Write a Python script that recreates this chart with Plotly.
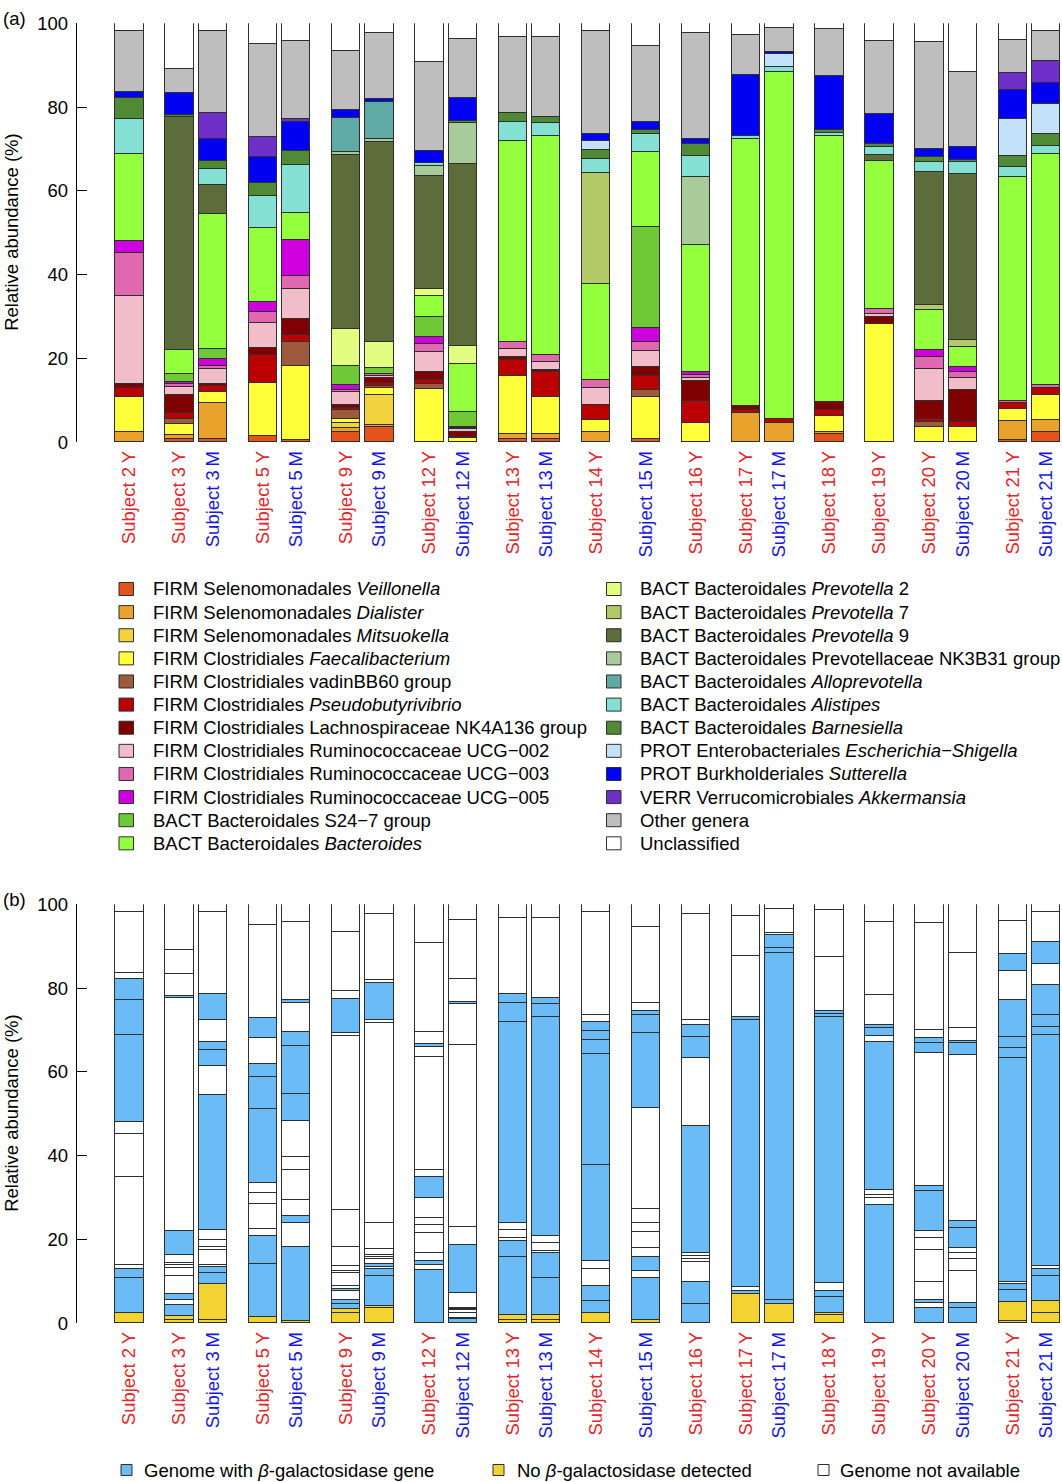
import plotly.graph_objects as go

# ---------------- data ----------------
subjects = [2, 3, 3, 5, 5, 9, 9, 12, 12, 13, 13, 14, 15, 16, 17, 17, 18, 19, 20, 20, 21, 21]
timepoints = ['Y', 'Y', 'M', 'Y', 'M', 'Y', 'M', 'Y', 'M', 'Y', 'M', 'Y', 'M', 'Y', 'Y', 'M', 'Y', 'Y', 'Y', 'M', 'Y', 'M']

veillonella = [0, 0.6, 0.7, 1.5, 0.4, 2.5, 3.7, 0, 0, 0.8, 0.8, 0, 0.7, 0, 0, 0, 2.0, 0, 0, 0, 0.4, 2.5]
dialister = [2.3, 1.0, 8.6, 0, 0, 0.8, 0.4, 0, 0, 1.2, 1.2, 2.5, 0, 0, 6.9, 4.5, 0.5, 0, 0, 0, 4.7, 2.7]
mitsuokella = [0, 0, 0, 0, 0, 1.2, 7.2, 0, 0, 0, 0, 0, 0, 0, 0, 0, 0, 0, 0, 0, 0, 0]
faecalibacterium = [8.4, 2.8, 2.6, 12.7, 17.8, 1.0, 1.7, 12.7, 1.0, 13.8, 8.7, 2.8, 10.0, 4.5, 0, 0, 3.6, 28.2, 3.6, 3.7, 2.8, 6.1]
vadinbb60 = [0, 1.1, 0, 0, 5.6, 2.2, 0.4, 1.2, 0, 0, 0, 0, 1.6, 0, 0, 0, 0, 0, 1.2, 0, 0, 0]
pseudobutyrivibrio = [2.3, 1.4, 1.4, 6.6, 1.7, 0.5, 0.6, 1.0, 0.3, 3.7, 5.9, 3.5, 3.4, 5.4, 0.8, 1.0, 1.6, 0, 0.7, 1.1, 1.4, 1.6]
lachno_nk4a136 = [0.8, 4.4, 0.6, 1.6, 3.9, 0.6, 1.2, 1.7, 1.0, 0.9, 0.5, 0, 2.2, 4.6, 1.0, 0, 1.8, 1.6, 4.2, 7.7, 0, 0]
rumino_ucg002 = [21.0, 1.9, 3.6, 6.0, 7.0, 3.2, 0.6, 5.0, 0.8, 1.8, 1.9, 4.2, 3.9, 0.8, 0, 0, 0, 0.8, 7.7, 2.8, 0, 0]
rumino_ucg003 = [10.2, 0.6, 0.6, 2.6, 3.3, 0.5, 0.4, 1.8, 0.3, 1.7, 1.8, 1.9, 2.0, 0.6, 0, 0, 0, 1.2, 2.8, 1.3, 0.6, 0.8]
rumino_ucg005 = [3.0, 0.5, 1.7, 2.4, 8.4, 1.0, 0, 1.7, 0.2, 0, 0, 0, 3.4, 0.8, 0, 0, 0, 0, 1.7, 1.2, 0, 0]
s24_7 = [0, 1.9, 2.4, 0, 0, 4.6, 1.5, 4.7, 3.6, 0, 0, 0, 24.1, 0, 0, 0, 0, 0, 0, 0, 0, 0]
bacteroides = [20.7, 5.7, 32.3, 17.7, 6.6, 0, 0, 5.0, 11.3, 48.0, 52.3, 22.8, 18.0, 30.2, 63.5, 82.8, 63.5, 35.2, 9.7, 4.9, 53.3, 55.0]
prevotella2 = [0, 0, 0, 0, 0, 8.8, 6.2, 1.7, 4.5, 0, 0, 0, 0, 0, 0, 0, 0, 0, 0, 0, 0, 0]
prevotella7 = [0, 0, 0, 0, 0, 0, 0, 0, 0, 0, 0, 26.5, 0, 0, 0, 0, 0, 0, 1.2, 1.6, 0, 0]
prevotella9 = [0, 55.6, 6.8, 0, 0, 41.5, 47.7, 26.9, 43.4, 0, 0, 0, 0, 0, 0, 0, 0, 1.5, 31.6, 39.7, 0, 0]
nk3b31 = [0, 0, 0, 0, 0, 0.7, 0.6, 2.4, 9.7, 0, 0, 0, 0, 16.3, 0, 0, 0, 0, 0, 0, 0, 0]
alloprevotella = [0, 0, 0, 0, 0, 8.2, 8.9, 0, 0, 0, 0, 0, 0, 0, 0, 0, 0, 0, 0, 0, 0, 0]
alistipes = [8.5, 0, 3.9, 7.5, 11.3, 0, 0, 0.9, 0, 4.4, 3.0, 3.3, 4.2, 5.1, 0.8, 1.2, 0.8, 1.9, 2.4, 2.8, 2.4, 1.9]
barnesiella = [4.9, 0.5, 1.8, 3.1, 3.4, 0, 0, 0, 0.6, 2.2, 1.4, 2.3, 0.9, 2.9, 0, 0, 0.6, 0.8, 1.2, 0.4, 2.6, 2.8]
escherichia_shigella = [0, 0, 0, 0, 0, 0, 0, 0, 0, 0, 0, 2.0, 0, 0, 0, 3.0, 0, 0, 0, 0, 8.9, 7.3]
sutterella = [1.4, 5.3, 5.3, 6.4, 7.0, 1.9, 0.8, 2.8, 5.4, 0, 0, 1.8, 2.0, 1.0, 14.7, 0.6, 12.9, 7.2, 1.9, 3.2, 7.0, 5.0]
akkermansia = [0, 0, 6.2, 4.6, 0.8, 0, 0, 0, 0, 0, 0, 0, 0, 0, 0, 0, 0, 0, 0, 0, 4.0, 5.3]
other_genera = [14.7, 5.7, 19.5, 22.3, 18.4, 14.2, 15.7, 21.2, 14.1, 18.1, 19.1, 24.4, 18.0, 25.4, 9.5, 5.7, 11.3, 17.4, 25.6, 17.9, 7.9, 7.2]
unclassified = [1.8, 11.0, 2.0, 5.0, 4.4, 6.6, 2.4, 9.3, 3.8, 3.4, 3.4, 2.0, 5.6, 2.4, 2.8, 1.2, 1.4, 4.2, 4.5, 11.7, 4.0, 1.8]

genus_labels = [
    "FIRM Selenomonadales <i>Veillonella</i>",
    "FIRM Selenomonadales <i>Dialister</i>",
    "FIRM Selenomonadales <i>Mitsuokella</i>",
    "FIRM Clostridiales <i>Faecalibacterium</i>",
    "FIRM Clostridiales vadinBB60 group",
    "FIRM Clostridiales <i>Pseudobutyrivibrio</i>",
    "FIRM Clostridiales Lachnospiraceae NK4A136 group",
    "FIRM Clostridiales Ruminococcaceae UCG\u2212002",
    "FIRM Clostridiales Ruminococcaceae UCG\u2212003",
    "FIRM Clostridiales Ruminococcaceae UCG\u2212005",
    "BACT Bacteroidales S24\u22127 group",
    "BACT Bacteroidales <i>Bacteroides</i>",
    "BACT Bacteroidales <i>Prevotella</i> 2",
    "BACT Bacteroidales <i>Prevotella</i> 7",
    "BACT Bacteroidales <i>Prevotella</i> 9",
    "BACT Bacteroidales Prevotellaceae NK3B31 group",
    "BACT Bacteroidales <i>Alloprevotella</i>",
    "BACT Bacteroidales <i>Alistipes</i>",
    "BACT Bacteroidales <i>Barnesiella</i>",
    "PROT Enterobacteriales <i>Escherichia\u2212Shigella</i>",
    "PROT Burkholderiales <i>Sutterella</i>",
    "VERR Verrucomicrobiales <i>Akkermansia</i>",
    "Other genera",
    "Unclassified",
]
genus_values = [veillonella, dialister, mitsuokella, faecalibacterium, vadinbb60, pseudobutyrivibrio,
                lachno_nk4a136, rumino_ucg002, rumino_ucg003, rumino_ucg005, s24_7, bacteroides,
                prevotella2, prevotella7, prevotella9, nk3b31, alloprevotella, alistipes, barnesiella,
                escherichia_shigella, sutterella, akkermansia, other_genera, unclassified]
genus_colors = ["#E4521E", "#E9A22C", "#F2D33C", "#FFFF3A", "#9E5A3C", "#BA0000", "#7E0000", "#F0BDC9",
                "#E068AE", "#CF00E0", "#6FC936", "#93FF3D", "#E3FC82", "#B3C866", "#5C6C3A", "#A9CB99",
                "#5FAAA5", "#84E0D2", "#508A35", "#C3E1FA", "#0000F2", "#6E2FC8", "#BEBEBE", "#FFFFFF"]
# beta-galactosidase status per genus (G = gene present, N = not detected, U = genome not available)
gal_status = ['N', 'N', 'G', 'G', 'U', 'G', 'U', 'U', 'U', 'U', 'U', 'G',
              'U', 'G', 'U', 'U', 'G', 'G', 'G', 'G', 'U', 'G', 'U', 'U']
status_labels = {'G': "Genome with <i>\u03b2</i>-galactosidase gene",
                 'N': "No <i>\u03b2</i>-galactosidase detected",
                 'U': "Genome not available"}
status_colors = {'G': "#6BBBF7", 'N': "#F3D332", 'U': "#FFFFFF"}

# ---------------- layout helpers ----------------
W, H = 1062, 1482
FONT = "Liberation Sans, Arial, Helvetica, sans-serif"
FS = 18.5
EDGE = "#2E2E2E"


def fx(p):
    return p / W


def fy(p):
    return 1 - p / H


# bar positions: step 1 within a subject, 1.5 between subjects
xpos = []
for i, s in enumerate(subjects):
    if i == 0:
        xpos.append(0.0)
    else:
        xpos.append(xpos[-1] + (1.0 if s == subjects[i - 1] else 1.5))

ticktext = []
for s, t in zip(subjects, timepoints):
    col = "#E3262A" if t == 'Y' else "#1717E3"
    ticktext.append(f"<span style='color:{col}'>Subject {s}\u2009{t}</span>")

fig = go.Figure()
for k in range(len(genus_values)):
    vals = [v if v > 0 else None for v in genus_values[k]]
    fig.add_bar(x=xpos, y=vals, width=0.85, name=genus_labels[k],
                marker=dict(color=genus_colors[k], line=dict(color=EDGE, width=1)),
                xaxis='x', yaxis='y', showlegend=False)
for k in range(len(genus_values)):
    vals = [v if v > 0 else None for v in genus_values[k]]
    fig.add_bar(x=xpos, y=vals, width=0.85, name=genus_labels[k],
                marker=dict(color=status_colors[gal_status[k]], line=dict(color=EDGE, width=1)),
                xaxis='x2', yaxis='y2', showlegend=False)

x_range = [-1.575, 27.98]
x_domain = [fx(76.7), 1.0]
xcommon = dict(range=x_range, domain=x_domain, tickmode='array', tickvals=xpos, ticktext=ticktext,
               tickangle=-90, showline=False, showgrid=False, zeroline=False, ticks='',
               tickfont=dict(family=FONT, size=FS), ticklabelstandoff=4, fixedrange=True,
               automargin=False)
ycommon = dict(range=[0, 100], tickmode='array', tickvals=[0, 20, 40, 60, 80, 100],
               showline=True, linecolor='black', linewidth=1, ticks='inside', ticklen=10,
               tickcolor='black', tickwidth=1, showgrid=False, zeroline=False,
               tickfont=dict(family=FONT, size=FS, color='black'), ticklabelstandoff=4,
               automargin=False)

fig.update_layout(
    template='none',
    width=W, height=H, margin=dict(l=0, r=0, t=0, b=0, pad=0, autoexpand=False),
    paper_bgcolor='white', plot_bgcolor='white', barmode='stack', bargap=0,
    font=dict(family=FONT, size=FS, color='black'),
    xaxis=dict(anchor='y', **xcommon),
    yaxis=dict(anchor='x', domain=[fy(442.3), fy(23.3)], **ycommon),
    xaxis2=dict(anchor='y2', **xcommon),
    yaxis2=dict(anchor='x2', domain=[fy(1323.3), fy(904.3)], **ycommon),
)

annotations = []
shapes = []
# panel labels and y titles
annotations.append(dict(text="(a)", x=fx(1), y=fy(19), xref='paper', yref='paper', xanchor='left',
                        yanchor='middle', showarrow=False, font=dict(family=FONT, size=FS)))
annotations.append(dict(text="(b)", x=fx(1), y=fy(900), xref='paper', yref='paper', xanchor='left',
                        yanchor='middle', showarrow=False, font=dict(family=FONT, size=FS)))
for yc in (232.8, 1113.8):
    annotations.append(dict(text="Relative abundance (%)", x=fx(12), y=fy(yc), xref='paper', yref='paper',
                            textangle=-90, xanchor='center', yanchor='middle', showarrow=False,
                            font=dict(family=FONT, size=FS)))

# legend for panel (a): two columns, 12 rows
for k in range(len(genus_labels)):
    col, row = divmod(k, 12)
    yc = 589 + row * 23.12
    bx = 119 if col == 0 else 606.5
    tx = 151 if col == 0 else 638.3
    shapes.append(dict(type='rect', xref='paper', yref='paper', x0=fx(bx), x1=fx(bx + 14.5),
                       y0=fy(yc + 6.5), y1=fy(yc - 6.5), fillcolor=genus_colors[k],
                       line=dict(color=EDGE, width=1)))
    annotations.append(dict(text=genus_labels[k], x=fx(tx), y=fy(yc), xref='paper', yref='paper',
                            xanchor='left', yanchor='middle', showarrow=False,
                            font=dict(family=FONT, size=FS)))

# legend for panel (b)
leg_b = [('G', 121, 142), ('N', 493, 515), ('U', 818, 838)]
for key, bx, tx in leg_b:
    yc = 1470
    shapes.append(dict(type='rect', xref='paper', yref='paper', x0=fx(bx), x1=fx(bx + 11),
                       y0=fy(yc + 5.5), y1=fy(yc - 5.5), fillcolor=status_colors[key],
                       line=dict(color=EDGE, width=1)))
    annotations.append(dict(text=status_labels[key], x=fx(tx), y=fy(yc), xref='paper', yref='paper',
                            xanchor='left', yanchor='middle', showarrow=False,
                            font=dict(family=FONT, size=FS)))

fig.update_layout(annotations=annotations, shapes=shapes)
fig.write_html("out.html", config={'displayModeBar': False},
               post_script="document.body.style.margin='0px';document.body.style.overflow='hidden';")
